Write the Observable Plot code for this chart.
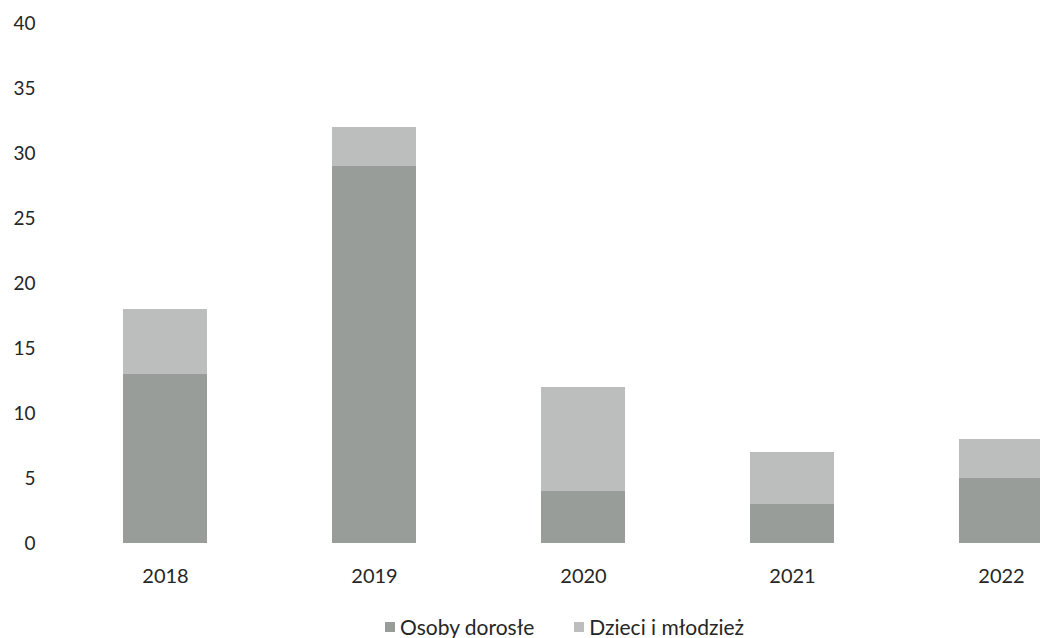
<!DOCTYPE html>
<html>
<head>
<meta charset="utf-8">
<script src="https://cdn.jsdelivr.net/npm/d3@7"></script>
<script src="https://cdn.jsdelivr.net/npm/@observablehq/plot@0.6"></script>
<style>
  html, body { margin: 0; padding: 0; background: #fff; overflow: hidden; width: 1040px; height: 638px; }
  body { font-family: Lato, "Noto Sans", sans-serif; color: #262626; position: relative; }
  #chart svg { overflow: hidden; }
  #legend { position: absolute; left: 385px; top: 614px; display: flex; align-items: center; font-size: 21px; line-height: 1.2; white-space: nowrap; }
  .item { display: flex; align-items: center; margin-right: 40px; }
  .sw { width: 10px; height: 10px; margin-right: 5px; }
</style>
</head>
<body>
<div id="chart"></div>
<div id="legend"></div>
<script>
const years = ["2018", "2019", "2020", "2021", "2022"];
const series = ["Osoby dorosłe", "Dzieci i młodzież"];
const adults = [13, 29, 4, 3, 5];
const children = [5, 3, 8, 4, 3];
const colors = ["#999d9a", "#bcbebd"];
const yTicks = [0, 5, 10, 15, 20, 25, 30, 35, 40];

const data = [];
years.forEach((y, i) => {
  data.push({year: y, series: series[0], value: adults[i]});
  data.push({year: y, series: series[1], value: children[i]});
});

const chart = Plot.plot({
  width: 1040,
  height: 600,
  marginLeft: 60,
  marginRight: 0,
  marginTop: 23,
  marginBottom: 57,
  style: {fontFamily: "Lato, 'Noto Sans', sans-serif", color: "#262626", background: "#fff"},
  x: {domain: years, range: [60, 1105], paddingInner: 0.6, paddingOuter: 0.3, label: null},
  y: {domain: [0, 40], ticks: yTicks, label: null},
  color: {domain: series, range: colors},
  marks: [
    Plot.barY(data, {x: "year", y: "value", fill: "series", order: series}),
    Plot.axisY({ticks: yTicks, tickSize: 0, tickPadding: 25, fontSize: 19, label: null}),
    Plot.axisX({tickSize: 0, tickPadding: 25, fontSize: 20, label: null})
  ]
});
document.getElementById("chart").appendChild(chart);

const legend = document.getElementById("legend");
series.forEach((s, i) => {
  const item = document.createElement("div");
  item.className = "item";
  const sw = document.createElement("span");
  sw.className = "sw";
  sw.style.background = colors[i];
  const t = document.createElement("span");
  t.textContent = s;
  item.appendChild(sw);
  item.appendChild(t);
  legend.appendChild(item);
});
</script>
</body>
</html>
